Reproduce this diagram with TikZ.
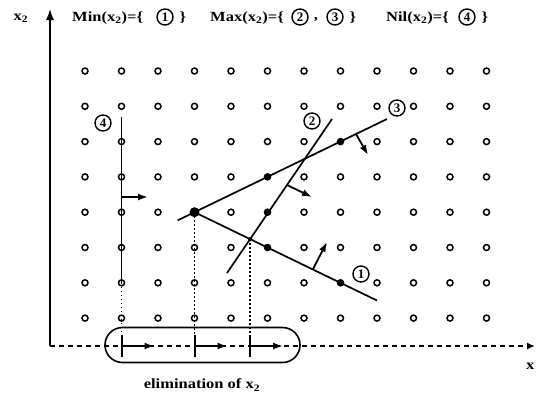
\documentclass[tikz,border=0pt]{standalone}
\usepackage{fontspec}
\setmainfont{Liberation Serif}
\usetikzlibrary{arrows.meta,intersections}
\newcommand{\wtxt}[1]{\scalebox{1.18}[1]{#1}}
\begin{document}
\begin{tikzpicture}[x=1pt,y=-1pt,
  gdot/.style={circle,draw,line width=1.5pt,inner sep=0pt,minimum size=6pt},
  fdot/.style={circle,fill,inner sep=0pt,minimum size=6.5pt},
  cnum/.style={circle,draw,line width=1.4pt,inner sep=0pt,minimum size=16pt,font=\fontsize{13}{13}\selectfont\bfseries},
  txt/.style={font=\fontsize{14}{16}\selectfont\bfseries,inner sep=0pt},
  cons/.style={line width=1.7pt},
  dir/.style={line width=1.8pt,-{Latex[length=10pt,width=7pt]}},
  dots/.style={line width=1.6pt,dash pattern=on 1.6pt off 2.4pt},
]
\useasboundingbox (0,0) rectangle (536,392);
% grid
\foreach \i in {0,...,11}{\foreach \j in {0,...,7}{
  \node[gdot] (g-\i-\j) at ({85+36.5*\i},{71+35.3*\j}) {};}}
% axes
\coordinate (O) at (50,346);
\coordinate (ytop) at (50,8);
\coordinate (xend) at (535,346);
\draw[line width=2.4pt,-{Latex[length=12pt,width=8pt]}] (O) -- (ytop);
\draw[line width=1.7pt,dash pattern=on 5pt off 4pt,-{Latex[length=8pt,width=7pt]}] (O) -- (xend);
\node[txt,anchor=west] (xlab) at (526,366) {\wtxt{x}};
\node[txt] (x2lab) at (21,18) {\wtxt{x\textsubscript{2}}};
% constraint lines
\coordinate (l3a) at (177.7,220.3);
\coordinate (l3b) at (387,119);
\coordinate (l1b) at (377,300.5);
\coordinate (l2a) at (332,119);
\coordinate (l2b) at (227,273);
\coordinate (l4a) at (121.5,117);
\draw[cons] (l3a) -- (l3b);
\draw[cons,name path=l1] (g-3-4.center) -- (l1b);
\draw[cons,name path=l2] (l2a) -- (l2b);
\draw[cons] (l4a) -- (g-1-6.center);
\path[name intersections={of=l1 and l2, by=p12}];
% filled points
\node[fdot,minimum size=10pt] (q0) at (g-3-4) {};
\foreach \p in {g-5-3,g-7-2,g-5-4,g-5-5,g-7-6}{\node[fdot] at (\p) {};}
\node[fdot,minimum size=4pt] (q12) at (p12) {};
% direction arrows
\coordinate (a3s) at (356,134);  \coordinate (a3e) at (368,155);
\coordinate (a2s) at (287,185);  \coordinate (a2e) at (312,197);
\coordinate (a1s) at (313,269);  \coordinate (a1e) at (327,242);
\coordinate (a4s) at (121.5,197); \coordinate (a4e) at (148,197);
\draw[dir] (a3s) -- (a3e);
\draw[dir] (a2s) -- (a2e);
\draw[dir] (a1s) -- (a1e);
\draw[dir] (a4s) -- (a4e);
% labels
\node[cnum] (c1) at (361,274) {1};
\node[cnum] (c2) at (312,121) {2};
\node[cnum] (c3) at (397,108) {3};
\node[cnum] (c4) at (103,123) {4};
% projections
\coordinate (t1) at (g-1-6 |- O);
\coordinate (t2) at (g-3-4 |- O);
\coordinate (t3) at (p12 |- O);
\draw[dots] (g-1-6.center) -- (t1);
\draw[dots] (g-3-4.center) -- (t2);
\draw[dots] (p12) -- (t3);
\node[draw,line width=1.6pt,rounded corners=17.5pt,minimum width=195pt,minimum height=35pt,inner sep=0pt] (elim) at (202.5,345) {};
\foreach \t in {t1,t2,t3}{
  \draw[line width=2pt] ([yshift=11pt]\t) -- ([yshift=-11pt]\t);
  \draw[dir] (\t) -- ([xshift=33pt]\t);}
\node[txt] (elimlab) at (202,385) {\wtxt{elimination of x\textsubscript{2}}};
% header
\node[txt,anchor=west] (hmin) at (72,18) {\wtxt{Min(x\textsubscript{2})=\{}};
\node[cnum] (h1) at (165,17) {1};
\node[txt] (hmin2) at (183,18) {\wtxt{\}}};
\node[txt,anchor=west] (hmax) at (210,18) {\wtxt{Max(x\textsubscript{2})=\{}};
\node[cnum] (h2) at (300,17) {2};
\node[txt] (hcomma) at (316,20) {\wtxt{,}};
\node[cnum] (h3) at (335,17) {3};
\node[txt] (hmax2) at (353,18) {\wtxt{\}}};
\node[txt,anchor=west] (hnil) at (386,18) {\wtxt{Nil(x\textsubscript{2})=\{}};
\node[cnum] (h4) at (467,17) {4};
\node[txt] (hnil2) at (485,18) {\wtxt{\}}};
\end{tikzpicture}
\end{document}
